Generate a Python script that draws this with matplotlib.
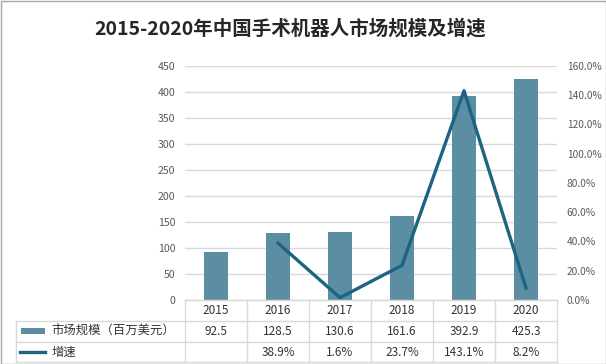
import matplotlib
matplotlib.use("Agg")
import matplotlib.pyplot as plt
import matplotlib.transforms as mtransforms
from matplotlib.lines import Line2D
from matplotlib.patches import Rectangle

plt.rcParams['font.family'] = ['Noto Sans CJK SC', 'DejaVu Sans']

years = ['2015', '2016', '2017', '2018', '2019', '2020']
market_size = [92.5, 128.5, 130.6, 161.6, 392.9, 425.3]
growth = [None, 38.9, 1.6, 23.7, 143.1, 8.2]
size_labels = ['92.5', '128.5', '130.6', '161.6', '392.9', '425.3']
growth_labels = ['', '38.9%', '1.6%', '23.7%', '143.1%', '8.2%']
left_ticks = [0, 50, 100, 150, 200, 250, 300, 350, 400, 450]
right_ticks = [0, 20, 40, 60, 80, 100, 120, 140, 160]
title = '2015-2020年中国手术机器人市场规模及增速'
series_names = ['市场规模（百万美元）', '增速']

W, H = 606, 364
fig = plt.figure(figsize=(W / 100, H / 100), dpi=100)
fig.patch.set_facecolor('white')

def fx(px):
    return px / W

def fy(py):
    return 1 - py / H

bar_color = '#5b8ea3'
line_color = '#1d6482'
grid_color = '#d9d9d9'
tick_color = '#595959'
text_color = '#333333'

left_px, right_px, top_px, bottom_px = 185, 557, 66, 300
ax = fig.add_axes([fx(left_px), fy(bottom_px), fx(right_px - left_px), (bottom_px - top_px) / H])
x = list(range(len(years)))
ax.bar(x, market_size, width=0.4, color=bar_color, zorder=2)
ax.set_xlim(-0.5, len(years) - 0.5)
ax.set_ylim(0, 450)
ax.set_yticks(left_ticks)
ax.set_yticklabels([str(t) for t in left_ticks])
ax.tick_params(axis='y', length=0, pad=7, labelsize=7.6, labelcolor=tick_color)
ax.set_xticks([])
ax.grid(axis='y', color=grid_color, linewidth=1, zorder=0)
for s in ['left', 'right', 'top']:
    ax.spines[s].set_visible(False)
ax.spines['bottom'].set_color(grid_color)

ax2 = ax.twinx()
gx = [i for i, g in zip(x, growth) if g is not None]
gy = [g for g in growth if g is not None]
ax2.plot(gx, gy, color=line_color, linewidth=2.4, zorder=3)
ax2.set_ylim(0, 160)
ax2.set_yticks(right_ticks)
ax2.set_yticklabels([f'{t:.1f}%' for t in right_ticks])
ax2.tick_params(axis='y', length=0, pad=7, labelsize=7.3, labelcolor=tick_color)
for s in ['left', 'right', 'top', 'bottom']:
    ax2.spines[s].set_visible(False)

# Title
fig.text(fx(290.5), fy(28.5), title, ha='center', va='center', fontsize=14,
         fontweight='bold', color='#262626')

# Data table
trans = mtransforms.blended_transform_factory(ax.transData, fig.transFigure)
row_y = [300, 321, 342, 362]
tl = dict(color=grid_color, linewidth=1, transform=fig.transFigure)
fig.add_artist(Line2D([fx(left_px), fx(right_px)], [fy(row_y[0])] * 2, **tl))
for ry in row_y[1:]:
    fig.add_artist(Line2D([fx(16), fx(right_px)], [fy(ry)] * 2, **tl))
fig.add_artist(Line2D([fx(16), fx(16)], [fy(row_y[1]), fy(row_y[3])], **tl))
for i in range(len(years) + 1):
    xb = i - 0.5
    fig.add_artist(Line2D([xb, xb], [fy(row_y[0]), fy(row_y[3])], color=grid_color,
                          linewidth=1, transform=trans))

mid = [(row_y[k] + row_y[k + 1]) / 2 for k in range(3)]
for i in x:
    fig.text(i, fy(mid[0]), years[i], transform=trans, ha='center', va='center',
             fontsize=8.5, color=text_color)
    fig.text(i, fy(mid[1]), size_labels[i], transform=trans, ha='center', va='center',
             fontsize=8.5, color=text_color)
    if growth_labels[i]:
        fig.text(i, fy(mid[2]), growth_labels[i], transform=trans, ha='center', va='center',
                 fontsize=8.5, color=text_color)

# legend keys in table
fig.add_artist(Rectangle((fx(21), fy(333.5)), fx(24), 5.5 / H, facecolor=bar_color,
                         edgecolor='none', transform=fig.transFigure))
fig.text(fx(51), fy(mid[1]), series_names[0], ha='left', va='center', fontsize=8.9,
         color=text_color)
fig.add_artist(Line2D([fx(20), fx(45)], [fy(352)] * 2, color=line_color, linewidth=2.4,
                      transform=fig.transFigure))
fig.text(fx(51), fy(mid[2]), series_names[1], ha='left', va='center', fontsize=8.9,
         color=text_color)

# outer border
fig.add_artist(Rectangle((0.5 / W, 0.5 / H), 1 - 1 / W, 1 - 1 / H, fill=False,
                         edgecolor='#a6a6a6', linewidth=1, transform=fig.transFigure))

fig.savefig('out.png', dpi=100, facecolor='white')
